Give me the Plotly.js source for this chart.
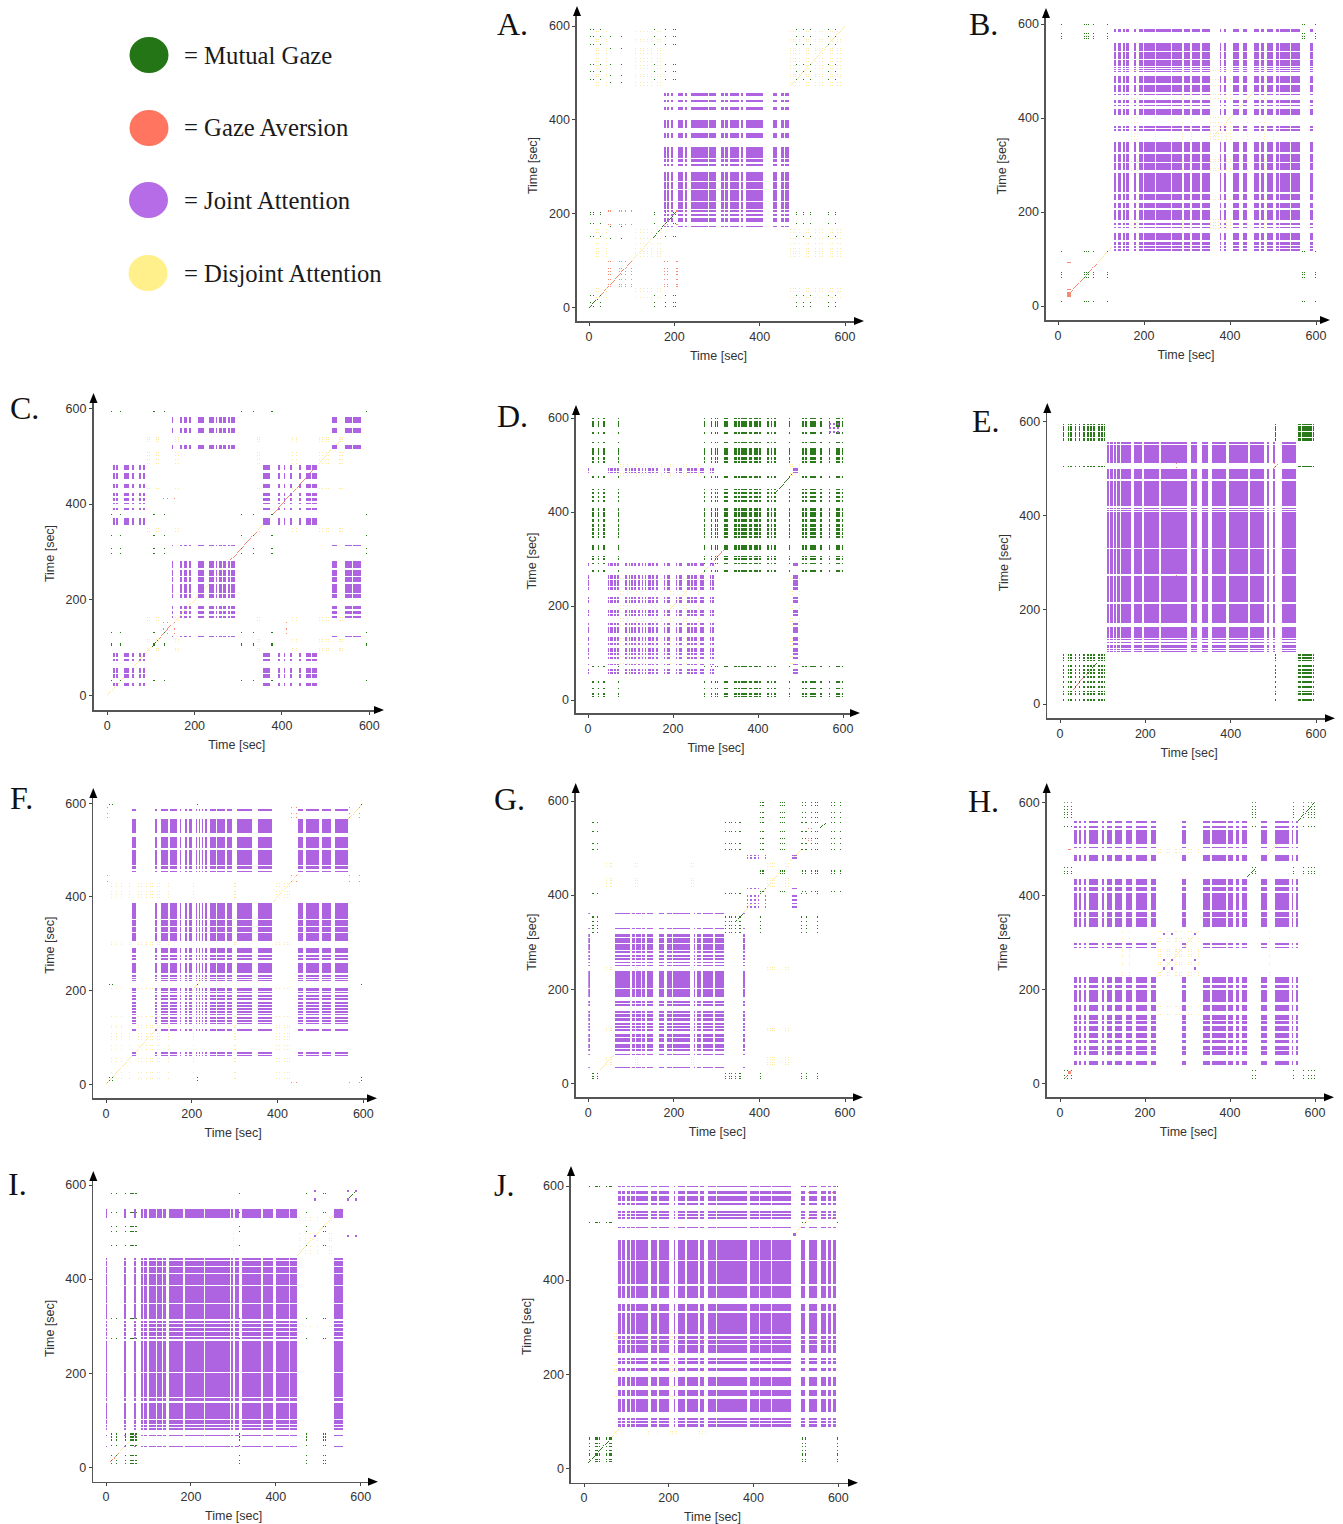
<!DOCTYPE html>
<html><head><meta charset="utf-8">
<script src="https://cdn.plot.ly/plotly-3.0.1.min.js"></script>
<style>html,body{margin:0;padding:0;background:#fff}</style></head>
<body><div id="chart" style="width:1343px;height:1524px"></div>
<script>
// Each list: flat [start,end, start,end, ...] in seconds.
// *_Diag lists: [start,end,code] runs of the main diagonal (2 mutual, 3 aversion, 4 disjoint).
const A_J=[176,180,182,188,192,198,208,220,224,230,240,280,282,298,310,316,318,326,330,352,356,362,368,388,390,408,432,440,450,456,460,468];
const A_Jy=[172,174,183,192,196,200,204,208,211,225,229,252,254,268,271,289,303,305,310,318,320,342,362,372,382,389,391,400,422,428,438,441,452,458];
const A_M=[2,4,10,12,26,28,152,154,178,180,198,200,202,204,486,488,502,504,518,520,560,562,576,578,592,594];
const A_M2=[50,52,76,78];
const A_M2y=[146,148,172,174,478,480,494,496,518,520,552,554,576,578];
const A_G=[44,46,50,52,60,62,70,72,76,78,84,86,98,100,176,178,182,184,205,207];
const A_D=[16,18,22,24,34,36,40,42,108,110,114,116,120,122,126,128,136,138,146,148,160,162,166,168,472,474,478,480,482,484,492,494,496,498,508,510,514,516,524,526,530,532,540,542,546,548,552,554,566,568,570,572,582,584,588,590];
const A_Diag=[[0,24,2],[24,100,3],[100,150,4],[150,206,2],[470,600,4]];

const B_J=[130,136,140,146,150,156,158,164,176,182,188,198,200,226,228,262,264,288,294,306,312,330,334,354,376,380,386,390,406,422,430,440,456,468,472,480,486,500,506,514,516,540,542,562,586,592];
const B_Jy=[118,122,124,128,130,136,140,148,150,156,166,168,172,176,182,204,208,220,226,238,242,282,290,304,306,324,328,350,372,376,378,384,406,420,426,428,432,438,448,452,456,470,474,490,498,500,502,504,506,508,510,524,526,540,542,560,584,590];
const B_M=[8,10,60,62,66,68,70,72,82,84,114,116,568,570,572,574,578,580,598,600];
const B_G=[20,30,34,36,92,94];
const B_D=[164,166,170,172,176,178,184,186,226,228,288,290,292,294,306,308,310,312,354,356,360,362,366,368,372,374,380,382,390,392,400,402,440,442,450,452,468,470,480,482,500,502];
const B_Diag=[[20,90,3],[90,126,4],[360,460,4]];

const C_J=[14,18,20,24,38,50,56,60,72,78,82,86,356,372,390,396,404,408,418,422,438,444,456,466,468,480];
const C_Jy=[20,26,36,44,46,58,72,76,80,88,356,370,388,392,400,402,406,412,416,422,434,442,452,464,472,482];
const C_J2=[122,124,148,150,166,172,176,182,188,192,208,222,232,244,248,252,256,262,264,272,276,282,284,292,514,526,544,560,562,582];
const C_J2y=[122,124,146,148,162,166,170,176,180,186,204,212,214,232,236,248,250,262,266,280,312,314,514,524,548,558,570,582];
const C_M=[8,10,30,32,104,110,130,132,296,298,306,308,334,336,376,380,592,594];
const C_G=[128,130,136,140,152,154,410,412];
const C_D=[92,94,96,98,112,114,116,118,156,158,162,164,342,344,348,350,424,426,432,434,484,486,492,494,500,502,506,508,530,532,534,536,538,540];
const C_Diag=[[0,100,4],[100,116,2],[116,148,3],[150,280,4],[280,345,3],[345,360,4],[380,480,3],[484,540,4]];

const D_J=[0,2,48,50,52,58,60,66,68,74,88,92,96,98,102,106,108,112,118,122,126,130,134,136,142,148,150,156,160,164,178,182,186,192,206,210,214,220,234,240,242,248,250,256,264,272,288,290,292,296,482,486,488,494];
const D_Jy=[48,50,56,60,62,66,74,76,88,92,96,100,102,110,118,122,126,134,142,148,150,156,160,164,178,184,186,192,206,212,214,220,234,240,242,248,250,256,258,266,286,292,482,486,488,494];
const D_J2=[568,572,576,580,586,590];
const D_M=[6,8,10,14,24,26,36,40,70,72,272,276,290,292,298,302,304,306,320,330,344,350,352,358,360,366,368,374,378,386,390,400,402,408,422,426,430,434,438,442,446,448,472,476,504,508,510,516,522,536,546,550,566,570,580,582,584,594,598,600];
const D_G=[312,316];
const D_D=[76,78,82,84,92,94,114,116,124,126,130,132,148,150,158,160,166,168,172,174,194,196,200,202,224,226,230,232,258,260,476,478,480,482,496,498,500,502];
const D_Diag=[[296,320,3],[190,290,4],[440,480,2]];

const E_J=[110,116,118,124,126,132,134,140,142,166,174,192,198,232,236,298,306,322,332,346,356,388,396,440,446,478,484,490,500,504,520,552];
const E_Jy=[110,112,114,116,118,124,126,128,130,132,136,138,140,164,172,212,216,272,276,330,332,408,410,412,414,416,420,474,478,500,512,550,552,556];
const E_M=[6,10,18,22,24,28,34,38,44,48,54,58,64,68,70,74,78,82,90,94,96,100,102,106,504,506,558,566,568,578,580,590,592,596];
const E_G=[272,274,502,504,510,512];
const E_D=[166,168,506,508];
const E_Diag=[[30,70,3],[70,86,2],[500,512,3]];

const F_J=[60,70,114,118,128,144,150,166,172,176,184,188,194,200,210,212,216,220,224,226,232,236,242,256,258,278,282,294,306,342,354,388,448,460,466,498,504,526,534,566];
const F_Jy=[60,62,64,70,114,118,128,130,132,138,140,144,148,150,152,156,158,162,166,170,172,176,180,184,186,190,194,198,200,206,220,222,224,228,230,234,238,260,266,270,272,276,280,292,306,322,326,336,338,350,352,388,448,450,454,456,460,466,468,500,504,528,536,566,584,588];
const F_M=[8,10,14,16,212,214,596,598];
const F_G=[2,4,432,434,444,446,568,570,578,580,590,592];
const F_D=[12,14,24,26,36,38,48,50,54,56,74,76,82,84,94,96,102,104,108,110,120,122,124,126,144,146,204,206,298,300,302,304,398,400,404,406,410,412,416,418,422,424,428,430];
const F_Diag=[[0,114,4],[200,232,4],[390,450,4],[566,600,4]];

const G_J=[0,4,62,98,102,108,112,122,126,132,138,152,164,176,184,196,198,238,246,250,254,262,268,292,296,316,360,366];
const G_Jy=[32,34,60,62,68,72,74,84,88,96,98,104,110,114,118,122,124,128,132,138,140,146,148,154,164,168,170,174,184,200,202,238,248,252,256,258,262,266,268,272,276,280,284,296,298,308,310,316,328,330,360,362];
const G_J2=[370,374,378,382,386,392,396,398,412,414,476,488];
const G_J2y=[372,376,380,384,388,392,396,400,412,414,476,480,482,486];
const G_M=[8,10,12,14,20,22,320,322,328,330,334,336,342,344,352,356,402,404,496,498,508,510,534,536,554,556];
const G_M2=[402,404,407,409,442,444,448,450,452,454,457,459,500,502,506,508,512,514,520,522,530,532,534,536,566,568,574,576,582,584,588,590];
const G_M2y=[406,408,444,446,448,454,496,498,508,510,520,522,534,536,554,556,564,566,574,576,582,584,590,592,596,598];
const G_G=[514,516,520,522,540,542];
const G_D=[38,40,42,44,50,52,54,56,110,112,114,116,240,242,244,246,418,420,424,426,430,432,434,436,460,462,466,468];
const G_Diag=[[28,60,4],[344,362,2],[362,450,4],[470,496,4],[540,556,2]];

const H_J=[34,40,44,50,56,62,68,90,98,104,110,122,130,146,156,170,178,204,214,226,288,296,336,354,358,390,396,408,414,422,428,440,474,486,506,540,546,548,556,560];
const H_Jy=[40,48,60,68,72,80,86,92,96,108,112,122,126,132,136,146,154,168,174,200,204,210,214,226,288,292,296,300,334,352,356,366,370,406,410,420,424,436,474,488,502,504,510,540,546,550,556,560];
const H_J2=[242,248,262,266,316,320];
const H_M=[10,12,16,18,26,28,446,448,452,454,460,462,548,550,566,568,572,574,578,580,584,586,590,592,598,600];
const H_G=[20,26,498,500];
const H_D=[230,232,236,238,252,254,256,258,270,272,274,276,280,282,284,286,302,304,308,310,324,326,146,148,162,164,492,494,498,500];
const H_Diag=[[10,26,3],[226,326,4],[440,460,2],[480,510,4],[560,600,2]];

const I_J=[0,2,42,46,66,70,82,86,90,96,100,118,120,132,134,140,148,182,186,230,234,260,262,292,294,298,304,314,320,364,370,394,400,430,434,450,536,558];
const I_Jy=[42,44,66,68,78,84,86,90,92,100,102,136,140,146,148,200,202,268,272,276,278,282,284,288,290,296,298,304,306,310,314,346,348,386,388,410,412,426,428,438,440,444,530,550];
const I_J2=[490,494,566,572,586,590];
const I_M=[6,8,12,14,24,26,44,46,56,60,62,66,68,72,272,274,314,316,470,472,500,502,510,512,516,518,540,542,580,582];
const I_G=[18,22];
const I_D=[454,456,460,462,468,470,480,482,486,488,496,498,524,526,530,532,298,300];
const I_Diag=[[10,30,3],[30,55,4],[55,72,2],[450,556,4],[566,590,2]];

const J_J=[80,88,90,98,102,108,110,120,124,150,158,172,178,200,212,216,222,238,244,270,274,284,292,312,314,344,346,384,392,414,416,442,444,490,512,522,532,550,560,572,576,584,588,596];
const J_Jy=[88,94,96,100,102,106,116,118,120,146,154,166,174,194,206,212,222,228,230,234,244,262,264,272,274,280,286,330,334,350,362,388,392,440,442,486,510,512,530,534,536,540,542,546,560,564,568,578,584,590,598,600];
const J_J2=[494,500];
const J_M=[12,14,18,20,26,32,36,38,44,46,52,54,60,66,516,518,522,524,598,600];
const J_G=[586,588,530,532];
const J_D=[72,74,76,78,152,154,172,174,204,206,208,210,218,220,240,242,272,274,278,280,286,288];
const J_Diag=[[10,62,2],[62,88,4],[500,526,4]];

const LETTERS=['A.','B.','C.','D.','E.','F.','G.','H.','I.','J.'];
const DATASETS=[
 {J:A_J,Jy:A_Jy,M:A_M,M2:A_M2,M2y:A_M2y,G:A_G,D:A_D,Diag:A_Diag},
 {J:B_J,Jy:B_Jy,M:B_M,G:B_G,D:B_D,Diag:B_Diag},
 {J:C_J,Jy:C_Jy,J2:C_J2,J2y:C_J2y,M:C_M,G:C_G,D:C_D,Diag:C_Diag},
 {J:D_J,Jy:D_Jy,J2:D_J2,M:D_M,G:D_G,D:D_D,Diag:D_Diag},
 {J:E_J,Jy:E_Jy,M:E_M,G:E_G,D:E_D,Diag:E_Diag},
 {J:F_J,Jy:F_Jy,M:F_M,G:F_G,D:F_D,Diag:F_Diag},
 {J:G_J,Jy:G_Jy,J2:G_J2,J2y:G_J2y,M:G_M,M2:G_M2,M2y:G_M2y,G:G_G,D:G_D,Diag:G_Diag},
 {J:H_J,Jy:H_Jy,J2:H_J2,M:H_M,G:H_G,D:H_D,Diag:H_Diag},
 {J:I_J,Jy:I_Jy,J2:I_J2,M:I_M,G:I_G,D:I_D,Diag:I_Diag},
 {J:J_J,Jy:J_Jy,J2:J_J2,M:J_M,G:J_G,D:J_D,Diag:J_Diag}
];
const LEGEND_LABELS=['= Mutual Gaze','= Gaze Aversion','= Joint Attention','= Disjoint Attention'];
const LEGEND_COLORS=['#237516','#FF7560','#B56CE6','#FFF08C'];
const TICKS=[0,200,400,600];

// pixel geometry: x of 0, x of 600, y of 0, y of 600, axis left, axis bottom, arrow right, arrow top, letter x,y
const GEO=[
 [589,845,307.5,26,577,321,860,10,495,24],
 [1058,1316,306,24,1046,320,1326,12,967,24],
 [107.3,369.3,695.7,408.3,93.5,710,380,397,8,408],
 [588,843,700,418,576,713,856,409,495,416],
 [1060,1316,704,421.7,1047.3,718.3,1331,407,970,421],
 [106,363.3,1084.3,803.3,93.3,1098.3,373,792,8,798],
 [588.3,845,1083.3,801,575.7,1097.3,859,787,492,799],
 [1060,1315,1083.3,802.3,1046.7,1097.3,1330,787,966,801],
 [106,360.7,1467.3,1185,93.3,1481.7,374,1175,6,1184],
 [584,838.3,1468.3,1186,571,1482.7,854,1170,492,1185]
];

const W=1343,H=1524,STEP=2;
const px=v=>v/W, py=v=>1-v/H;
const CELLS=[];for(let t=STEP/2;t<600;t+=STEP)CELLS.push(t);

function mask(list){
  const m=new Array(CELLS.length).fill(false);
  if(!list)return m;
  for(let k=0;k<list.length;k+=2)
    for(let i=0;i<CELLS.length;i++)
      if(CELLS[i]>=list[k]&&CELLS[i]<=list[k+1])m[i]=true;
  return m;
}
// Priority order: first drawn wins. code 1 joint, 2 mutual, 3 aversion, 4 disjoint.
const CATEGORIES=[['J',1],['J2',1],['M',2],['M2',2],['G',3],['D',4]];
function matrix(d){
  const z=CELLS.map(()=>new Array(CELLS.length).fill(null));
  CATEGORIES.forEach(([name,code])=>{
    if(!d[name])return;
    const mx=mask(d[name]),my=mask(d[name+'y']||d[name]);
    for(let r=0;r<CELLS.length;r++){
      if(!my[r])continue;
      for(let c=0;c<CELLS.length;c++) if(mx[c]&&z[r][c]===null)z[r][c]=code;
    }
  });
  (d.Diag||[]).forEach(([s,e,code])=>{
    for(let i=0;i<CELLS.length;i++) if(CELLS[i]>=s&&CELLS[i]<=e&&z[i][i]===null)z[i][i]=code;
  });
  return z;
}
const SCALE=[[0,'#AE63E0'],[0.25,'#AE63E0'],[0.25,'#2A7A1C'],[0.5,'#2A7A1C'],[0.5,'#F58A70'],[0.75,'#F58A70'],[0.75,'#FFE8A0'],[1,'#FFE8A0']];

const traces=[],shapes=[],annotations=[],layout={
  width:W,height:H,margin:{l:0,r:0,t:0,b:0},paper_bgcolor:'#fff',plot_bgcolor:'#fff',showlegend:false,
  font:{family:'"Liberation Sans",Arial,sans-serif',color:'#333'}
};
DATASETS.forEach((d,p)=>{
  const [x0,x600,y0,y600,L,B,R,T,lx,ly]=GEO[p];
  const n=p?String(p+1):'';
  traces.push({type:'heatmap',x:CELLS,y:CELLS,z:matrix(d),xaxis:'x'+n,yaxis:'y'+n,zmin:0.5,zmax:4.5,colorscale:SCALE,
    showscale:false,hoverongaps:false});
  const ax={showgrid:false,zeroline:false,showline:true,linecolor:'#555',linewidth:1.6,ticks:'outside',ticklen:3,tickwidth:1,
    tickcolor:'#444',tickvals:TICKS,ticktext:TICKS.map(String),tickfont:{size:12.5,color:'#333'},fixedrange:true};
  const kx=(x600-x0)/600,ky=(y0-y600)/600;
  layout['xaxis'+n]=Object.assign({},ax,{domain:[px(L),px(R)],range:[(L-x0)/kx,(R-x0)/kx],anchor:'y'+n,
    title:{text:'Time [sec]',standoff:8,font:{size:12.5,color:'#333'}}});
  layout['yaxis'+n]=Object.assign({},ax,{domain:[py(B),py(T)],range:[(y0-B)/ky,(y0-T)/ky],anchor:'x'+n,
    title:{text:'Time [sec]',standoff:8,font:{size:12.5,color:'#333'}}});
  shapes.push({type:'path',xref:'paper',yref:'paper',fillcolor:'#000',line:{width:0},
    path:`M ${px(R+4)} ${py(B)} L ${px(R-6)} ${py(B-4)} L ${px(R-6)} ${py(B+4)} Z`});
  shapes.push({type:'path',xref:'paper',yref:'paper',fillcolor:'#000',line:{width:0},
    path:`M ${px(L)} ${py(T-4)} L ${px(L-4)} ${py(T+6)} L ${px(L+4)} ${py(T+6)} Z`});
  annotations.push({xref:'paper',yref:'paper',x:px(lx),y:py(ly),xanchor:'left',yanchor:'middle',showarrow:false,
    text:LETTERS[p],font:{family:'"Liberation Serif",serif',size:32,color:'#111'}});
});
const LEG=[[149,55,56],[149,128,127],[148.5,200,200],[148,273,273.5]];
LEGEND_LABELS.forEach((t,i)=>{
  const [cx,cy,ty]=LEG[i];
  shapes.push({type:'circle',xref:'paper',yref:'paper',x0:px(cx-19.5),x1:px(cx+19.5),y0:py(cy+18),y1:py(cy-18),
    fillcolor:LEGEND_COLORS[i],line:{width:0}});
  annotations.push({xref:'paper',yref:'paper',x:px(182),y:py(ty),xanchor:'left',yanchor:'middle',showarrow:false,
    text:t,font:{family:'"Liberation Serif",serif',size:24.7,color:'#1a1a1a'}});
});
layout.shapes=shapes;layout.annotations=annotations;
Plotly.newPlot('chart',traces,layout,{displayModeBar:false,staticPlot:true});
</script></body></html>
